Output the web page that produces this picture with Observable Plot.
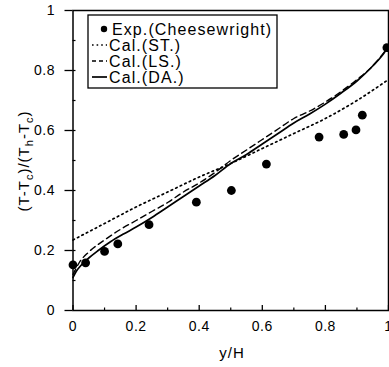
<!DOCTYPE html>
<html><head><meta charset="utf-8">
<script src="https://cdn.jsdelivr.net/npm/d3@7"></script>
<script src="https://cdn.jsdelivr.net/npm/@observablehq/plot@0.6"></script>
<style>body{margin:0;background:#fff;} #chart svg{display:block;overflow:visible;}</style>
</head><body><div id="chart"></div>
<script>
// Experimental data (Cheesewright)
const expX = [0, 0.04, 0.10, 0.142, 0.241, 0.391, 0.502, 0.613, 0.78, 0.858, 0.897, 0.917, 0.995];
const expY = [0.152, 0.159, 0.197, 0.222, 0.286, 0.361, 0.40, 0.488, 0.578, 0.587, 0.602, 0.651, 0.876];
// Cal.(ST.)
const stX = [0, 0.1, 0.2, 0.3, 0.4, 0.5, 0.6, 0.7, 0.8, 0.9, 1.0];
const stY = [0.235, 0.29, 0.345, 0.395, 0.445, 0.49, 0.54, 0.59, 0.64, 0.70, 0.77];
// Cal.(LS.)
const lsX = [0, 0.02, 0.05, 0.1, 0.15, 0.2, 0.25, 0.3, 0.35, 0.4, 0.45, 0.5, 0.55, 0.6, 0.65, 0.7, 0.75, 0.8, 0.85, 0.9, 0.95, 1.0];
const lsY = [0.12, 0.16, 0.195, 0.235, 0.27, 0.30, 0.33, 0.36, 0.395, 0.425, 0.46, 0.50, 0.535, 0.57, 0.605, 0.64, 0.665, 0.695, 0.73, 0.77, 0.815, 0.88];
// Cal.(DA.)
const daX = [0, 0.01, 0.025, 0.05, 0.08, 0.12, 0.16, 0.2, 0.25, 0.3, 0.35, 0.4, 0.45, 0.5, 0.55, 0.6, 0.65, 0.7, 0.75, 0.8, 0.85, 0.9, 0.95, 0.98, 1.0];
const daY = [0.11, 0.13, 0.15, 0.175, 0.2, 0.23, 0.255, 0.278, 0.31, 0.345, 0.38, 0.415, 0.45, 0.49, 0.52, 0.555, 0.59, 0.625, 0.655, 0.688, 0.725, 0.765, 0.815, 0.85, 0.88];
// ticks
const xMajor = [0, 0.2, 0.4, 0.6, 0.8, 1];
const xMinor = [0.1, 0.3, 0.5, 0.7, 0.9];
const yMajor = [0, 0.2, 0.4, 0.6, 0.8, 1];
const yAll = [0.1, 0.2, 0.3, 0.4, 0.5, 0.6, 0.7, 0.8, 0.9];
const legendLabels = ["Exp.(Cheesewright)", "Cal.(ST.)", "Cal.(LS.)", "Cal.(DA.)"];

const toRows = (xs, ys) => xs.map((x, i) => ({x, y: ys[i]}));
const font = "'Liberation Sans', Arial, Helvetica, sans-serif";

const plot = Plot.plot({
  width: 389, height: 367,
  marginLeft: 72.5, marginRight: 1, marginTop: 10, marginBottom: 57,
  style: {fontFamily: font, fontSize: "14px", color: "#000", background: "#fff", overflow: "visible", letterSpacing: "0.5px"},
  x: {domain: [0, 1]},
  y: {domain: [0, 1]},
  marks: [
    Plot.line(toRows(stX, stY), {x: "x", y: "y", stroke: "#000", strokeWidth: 1.7, strokeDasharray: "1.6,3.4", curve: "monotone-x"}),
    Plot.line(toRows(lsX, lsY), {x: "x", y: "y", stroke: "#000", strokeWidth: 1.4, strokeDasharray: "6,4", curve: "monotone-x"}),
    Plot.line(toRows(daX, daY), {x: "x", y: "y", stroke: "#000", strokeWidth: 1.7, curve: "monotone-x"}),
    Plot.dot(toRows(expX, expY), {x: "x", y: "y", r: 4.4, fill: "#000", stroke: "none"}),
    Plot.frame({stroke: "#000", strokeWidth: 1.5}),
    Plot.axisY(yMajor, {tickSize: 8, tickPadding: 10, tickFormat: d => String(d), label: null, strokeWidth: 1.3}),
    Plot.axisY(yAll, {tickSize: -3, fill: "none", label: null, strokeWidth: 1.2}),
    Plot.axisX(xMajor, {tickSize: 0, tickPadding: 11, tickFormat: d => String(d), label: null}),
    Plot.axisX(xMajor, {tickSize: -5, fill: "none", label: null, strokeWidth: 1.3}),
    Plot.axisX(xMinor, {tickSize: -2.5, fill: "none", label: null, strokeWidth: 1.2})
  ]
});

const svg = d3.select(plot);

// x axis label
svg.append("text").attr("x", 232).attr("y", 358).attr("text-anchor", "middle")
  .style("font-family", font).style("font-size", "15px").style("letter-spacing", "1px")
  .attr("fill", "#000").text("y/H");

// y axis label with subscripts
const yl = svg.append("text").attr("transform", "translate(29,161) rotate(-90)")
  .attr("text-anchor", "middle").style("font-family", font).style("font-size", "15px")
  .style("letter-spacing", "1px").attr("fill", "#000");
const parts = [["(T-T", 0], ["c", 1], [")/(T", 0], ["h", 1], ["-T", 0], ["c", 1], [")", 0]];
let shifted = false;
parts.forEach(([t, sub]) => {
  const ts = yl.append("tspan").text(t);
  if (sub) { ts.attr("dy", shifted ? 0 : 4).style("font-size", "11px"); shifted = true; }
  else { ts.attr("dy", shifted ? -4 : 0); shifted = false; }
});

// legend
const lg = svg.append("g").attr("text-anchor", "start");
lg.append("rect").attr("x", 88).attr("y", 15).attr("width", 189).attr("height", 73)
  .attr("fill", "#fff").attr("stroke", "#000").attr("stroke-width", 1.3);
const rowY = [29, 45, 61, 77];
const dashes = [null, "1.6,3", "4,3", null];
legendLabels.forEach((lab, i) => {
  if (i === 0) {
    lg.append("circle").attr("cx", 104).attr("cy", rowY[i]).attr("r", 3.2).attr("fill", "#000");
  } else {
    const ln = lg.append("line").attr("x1", 92).attr("x2", 107).attr("y1", rowY[i]).attr("y2", rowY[i])
      .attr("stroke", "#000").attr("stroke-width", i === 3 ? 1.7 : 1.5);
    if (dashes[i]) ln.attr("stroke-dasharray", dashes[i]);
  }
  lg.append("text").attr("x", i === 0 ? 112 : 109).attr("y", rowY[i] + 6)
    .attr("text-anchor", "start")
    .style("font-family", font).style("font-size", "16px").style("letter-spacing", "1.1px")
    .attr("fill", "#000").text(lab);
});

document.getElementById("chart").appendChild(plot);
</script>
</body></html>
